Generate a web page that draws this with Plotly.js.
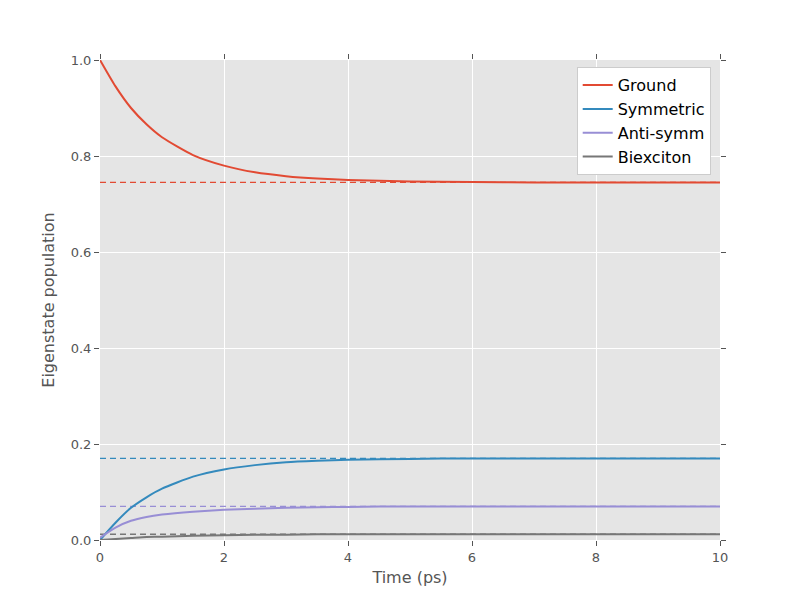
<!DOCTYPE html>
<html>
<head>
<script src="https://cdn.plot.ly/plotly-3.0.1.min.js"></script>
<style>body{margin:0}</style>
</head>
<body>
<div id="chart" style="width:800px;height:600px"></div>
<script>
// time samples (ps)
var time = [0, 0.25, 0.5, 0.75, 1, 1.5, 2, 2.5, 3, 3.5, 4, 5, 6, 7, 8, 9, 10];
var ground    = [1.0, 0.945, 0.900, 0.866, 0.839, 0.802, 0.780, 0.766, 0.758, 0.753, 0.750, 0.747, 0.746, 0.745, 0.745, 0.745, 0.745];
var symmetric = [0.0, 0.036, 0.067, 0.089, 0.107, 0.132, 0.147, 0.156, 0.162, 0.165, 0.167, 0.169, 0.170, 0.170, 0.170, 0.170, 0.170];
var antisymm  = [0.005, 0.026, 0.040, 0.048, 0.053, 0.059, 0.063, 0.065, 0.067, 0.068, 0.069, 0.070, 0.070, 0.070, 0.070, 0.070, 0.070];
var biexciton = [0.0, 0.002, 0.004, 0.006, 0.007, 0.009, 0.010, 0.011, 0.011, 0.012, 0.012, 0.012, 0.012, 0.012, 0.012, 0.012, 0.012];

// steady-state (dashed) levels
var tEnds = [0, 10];
var steady = {Ground: 0.745, Symmetric: 0.170, 'Anti-symm': 0.070, Biexciton: 0.012};

var names = ['Ground', 'Symmetric', 'Anti-symm', 'Biexciton'];
var series = [ground, symmetric, antisymm, biexciton];
var colors = ['#E24A33', '#348ABD', '#988ED5', '#777777'];   // ggplot style cycle

var data = [];
names.forEach(function (n, i) {
  data.push({
    x: tEnds, y: [steady[n], steady[n]], mode: 'lines', showlegend: false,
    line: {color: colors[i], width: 1.3, dash: '6px,4px'}
  });
});
names.forEach(function (n, i) {
  data.push({
    x: time, y: series[i], name: n, mode: 'lines', line: {color: colors[i], width: 2, shape: 'spline', smoothing: 0.6}
  });
});

var axis = {
  showgrid: true, gridcolor: '#ffffff', gridwidth: 1, zeroline: false,
  ticks: 'outside', ticklen: 5, tickcolor: '#555', mirror: 'ticks',
  showline: false, tickfont: {size: 13, color: '#555'}
};

var layout = {
  width: 800, height: 600,
  margin: {l: 100, r: 80, t: 60, b: 60},
  paper_bgcolor: '#ffffff', plot_bgcolor: '#E5E5E5',
  font: {family: 'DejaVu Sans', color: '#555'},
  xaxis: Object.assign({}, axis, {range: [0, 10], dtick: 2, automargin: false,
    title: {text: 'Time (ps)', font: {size: 16}, standoff: 8}}),
  yaxis: Object.assign({}, axis, {range: [0, 1], dtick: 0.2, tickformat: '.1f', automargin: false,
    title: {text: 'Eigenstate population', font: {size: 16}, standoff: 12}}),
  legend: {x: 0.985, y: 0.985, xanchor: 'right', yanchor: 'top', bgcolor: '#ffffff',
           bordercolor: '#cccccc', borderwidth: 1, font: {size: 16, color: '#000'}},
  showlegend: true
};

Plotly.newPlot('chart', data, layout, {staticPlot: true});
</script>
</body>
</html>
